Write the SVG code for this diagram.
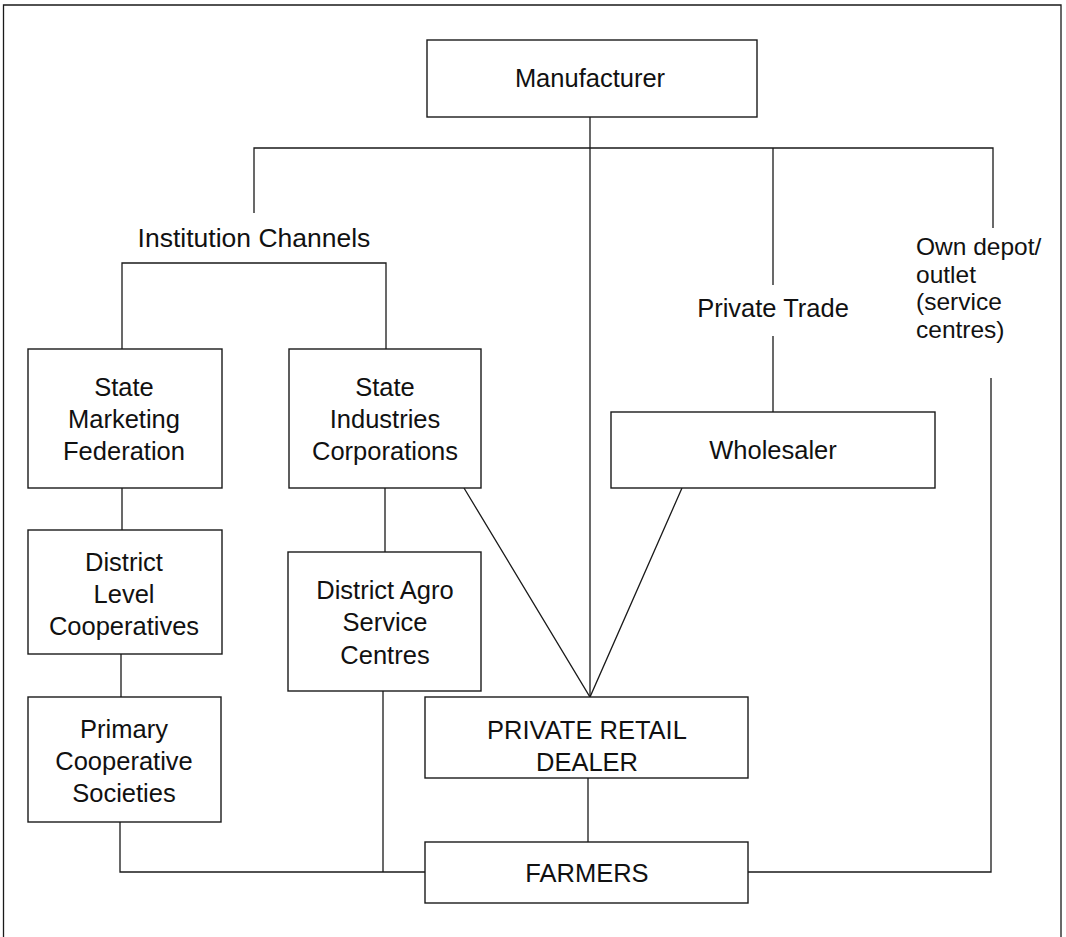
<svg xmlns="http://www.w3.org/2000/svg" width="1066" height="937" viewBox="0 0 1066 937">
<style>
.box{fill:#fff;stroke:#1a1a1a;stroke-width:1.4}
.ln{fill:none;stroke:#1a1a1a;stroke-width:1.3}
.t{font-family:"Liberation Sans",Arial,sans-serif;font-size:25.5px;fill:#111;text-anchor:middle}
.s{text-anchor:start;font-size:24.5px}
</style>
<rect width="1066" height="937" fill="#fff"/>
<path class="ln" d="M3.5,940 V5 H1061 V940"/>
<g id="connectors">
<path class="ln" d="M590,117 V697"/>
<path class="ln" d="M254,213 V148 H993 V228"/>
<path class="ln" d="M773,148 V285 M773,336 V412"/>
<path class="ln" d="M991,378 V872 H748"/>
<path class="ln" d="M122,349 V263 H386 V349"/>
<path class="ln" d="M122,488 V530 M121,654 V697"/>
<path class="ln" d="M120,822 V872 H425"/>
<path class="ln" d="M385,488 V552 M383,691 V872"/>
<path class="ln" d="M464,488 L590,697 L682,488"/>
<path class="ln" d="M588,778 V842"/>
</g>
<g id="manufacturer"><rect class="box" x="427" y="40" width="330" height="77"/><text class="t" x="590" y="87">Manufacturer</text></g>
<g id="institution-channels"><text class="t" x="254" y="247" style="font-size:26.5px">Institution Channels</text></g>
<g id="private-trade"><text class="t" x="773" y="317">Private Trade</text></g>
<g id="own-depot"><text class="t s" x="916" y="255">Own depot/</text><text class="t s" x="916" y="282.5">outlet</text><text class="t s" x="916" y="310">(service</text><text class="t s" x="916" y="337.5">centres)</text></g>
<g id="smf"><rect class="box" x="28" y="349" width="194" height="139"/><text class="t" x="124" y="396">State</text><text class="t" x="124" y="428">Marketing</text><text class="t" x="124" y="460">Federation</text></g>
<g id="sic"><rect class="box" x="289" y="349" width="192" height="139"/><text class="t" x="385" y="396">State</text><text class="t" x="385" y="428">Industries</text><text class="t" x="385" y="460">Corporations</text></g>
<g id="wholesaler"><rect class="box" x="611" y="412" width="324" height="76"/><text class="t" x="773" y="459">Wholesaler</text></g>
<g id="dlc"><rect class="box" x="28" y="530" width="194" height="124"/><text class="t" x="124" y="571">District</text><text class="t" x="124" y="603">Level</text><text class="t" x="124" y="635">Cooperatives</text></g>
<g id="dasc"><rect class="box" x="288" y="552" width="193" height="139"/><text class="t" x="385" y="599">District Agro</text><text class="t" x="385" y="631">Service</text><text class="t" x="385" y="664">Centres</text></g>
<g id="pcs"><rect class="box" x="28" y="697" width="193" height="125"/><text class="t" x="124" y="738">Primary</text><text class="t" x="124" y="770">Cooperative</text><text class="t" x="124" y="802">Societies</text></g>
<g id="prd"><rect class="box" x="425" y="697" width="323" height="81"/><text class="t" x="587" y="739">PRIVATE RETAIL</text><text class="t" x="587" y="771">DEALER</text></g>
<g id="farmers"><rect class="box" x="425" y="842" width="323" height="61"/><text class="t" x="587" y="882">FARMERS</text></g>
</svg>
